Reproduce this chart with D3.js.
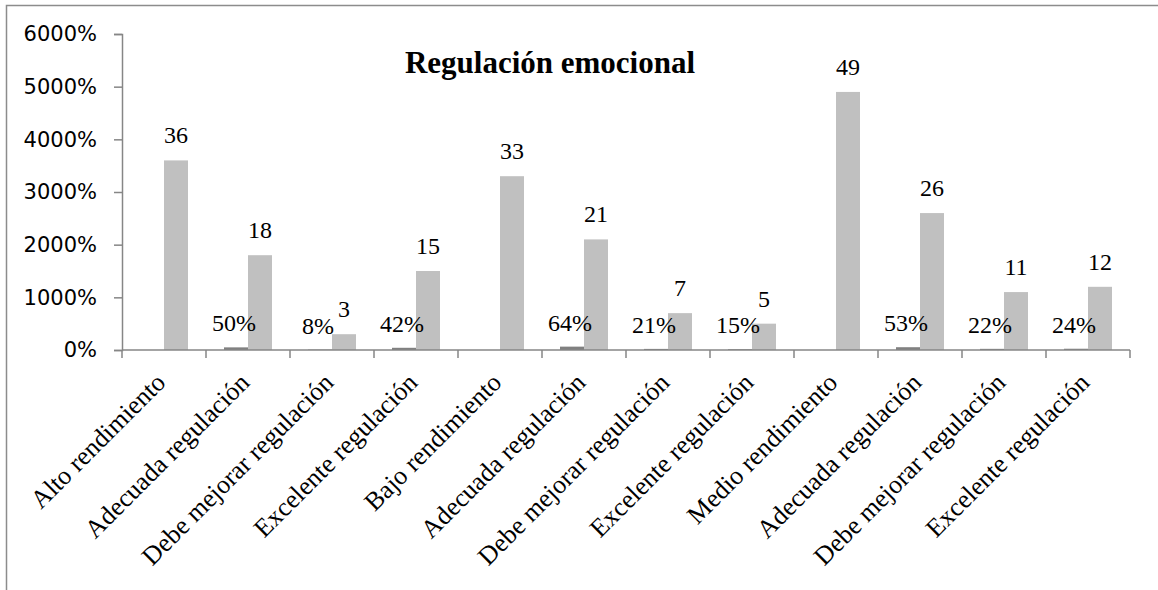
<!DOCTYPE html>
<html><head><meta charset="utf-8">
<script src="https://cdn.jsdelivr.net/npm/d3@7"></script>
<style>body{margin:0;background:#fff}svg{display:block}.serif{font-family:"Liberation Serif","Times New Roman",serif}</style>
</head><body>
<svg id="c" width="1158" height="590"></svg>
<script>
const categories = ["Alto rendimiento","Adecuada regulación","Debe mejorar regulación","Excelente regulación","Bajo rendimiento","Adecuada regulación","Debe mejorar regulación","Excelente regulación","Medio rendimiento","Adecuada regulación","Debe mejorar regulación","Excelente regulación"];
const seriesPct = [null,0.50,0.08,0.42,null,0.64,0.21,0.15,null,0.53,0.22,0.24];
const seriesCount = [36,18,3,15,33,21,7,5,49,26,11,12];
const yTicks = [0,10,20,30,40,50,60];
const title = "Regulación emocional";

const svg = d3.select("#c");
svg.append("rect").attr("x",6.5).attr("y",5.5).attr("width",1200).attr("height",700)
  .attr("fill","none").attr("stroke","#8c8c8c").attr("stroke-width",1.5);

const x0 = d3.scaleBand().domain(d3.range(categories.length)).range([122,1130]).padding(0);
const y = d3.scaleLinear().domain([0,60]).range([350,34]);
const bw = 24;
const idx = d3.range(categories.length);

const g = svg.append("g");
g.selectAll("rect.d").data(idx.filter(i=>seriesPct[i]!=null)).join("rect").attr("class","d")
  .attr("x",i=>x0(i)+x0.bandwidth()/2-bw).attr("width",bw)
  .attr("y",i=>y(seriesPct[i])).attr("height",i=>y(0)-y(seriesPct[i]))
  .attr("fill","#808080");
g.selectAll("rect.l").data(idx).join("rect").attr("class","l")
  .attr("x",i=>x0(i)+x0.bandwidth()/2).attr("width",bw)
  .attr("y",i=>y(seriesCount[i])).attr("height",i=>y(0)-y(seriesCount[i]))
  .attr("fill","#c0c0c0");

// y axis
const ya = svg.append("g").attr("transform","translate(122,0)")
  .call(d3.axisLeft(y).tickValues(yTicks).tickFormat(d3.format(".0%")).tickSizeOuter(0).tickSize(8).tickPadding(17));
ya.select(".domain").attr("stroke","#868686").attr("stroke-width",1.5);
ya.selectAll(".tick line").attr("stroke","#868686").attr("stroke-width",1.5);
ya.selectAll("text").style("font-family","DejaVu Sans").style("font-size","21px").attr("fill","#000");

// x axis
const xa = svg.append("g").attr("transform","translate(0,350)");
xa.append("line").attr("x1",122).attr("x2",1130).attr("stroke","#868686").attr("stroke-width",1.5);
xa.selectAll("line.t").data(d3.range(categories.length+1)).join("line").attr("class","t")
  .attr("x1",i=>122+i*x0.bandwidth()).attr("x2",i=>122+i*x0.bandwidth())
  .attr("y1",0).attr("y2",8).attr("stroke","#868686").attr("stroke-width",1.5);
xa.selectAll("text.lab").data(idx).join("text").attr("class","lab serif")
  .attr("transform",i=>`translate(${x0(i)+x0.bandwidth()/2+3},34) rotate(-45)`)
  .attr("text-anchor","end").style("font-size","26px").attr("fill","#000")
  .text(i=>categories[i]);

// data labels
g.selectAll("text.dl").data(idx.filter(i=>seriesPct[i]!=null)).join("text").attr("class","dl serif")
  .attr("x",i=>x0(i)+x0.bandwidth()/2-bw/2-2).attr("y",i=>y(seriesPct[i])-16)
  .attr("text-anchor","middle").style("font-size","24px")
  .text(i=>d3.format(".0%")(seriesPct[i]));
g.selectAll("text.cl").data(idx).join("text").attr("class","cl serif")
  .attr("x",i=>x0(i)+x0.bandwidth()/2+bw/2).attr("y",i=>y(seriesCount[i])-17)
  .attr("text-anchor","middle").style("font-size","24px")
  .text(i=>seriesCount[i]);

svg.append("text").attr("class","serif").attr("x",550).attr("y",73).attr("text-anchor","middle")
  .style("font-weight","bold").style("font-size","31px")
  .text(title);
</script>
</body></html>
